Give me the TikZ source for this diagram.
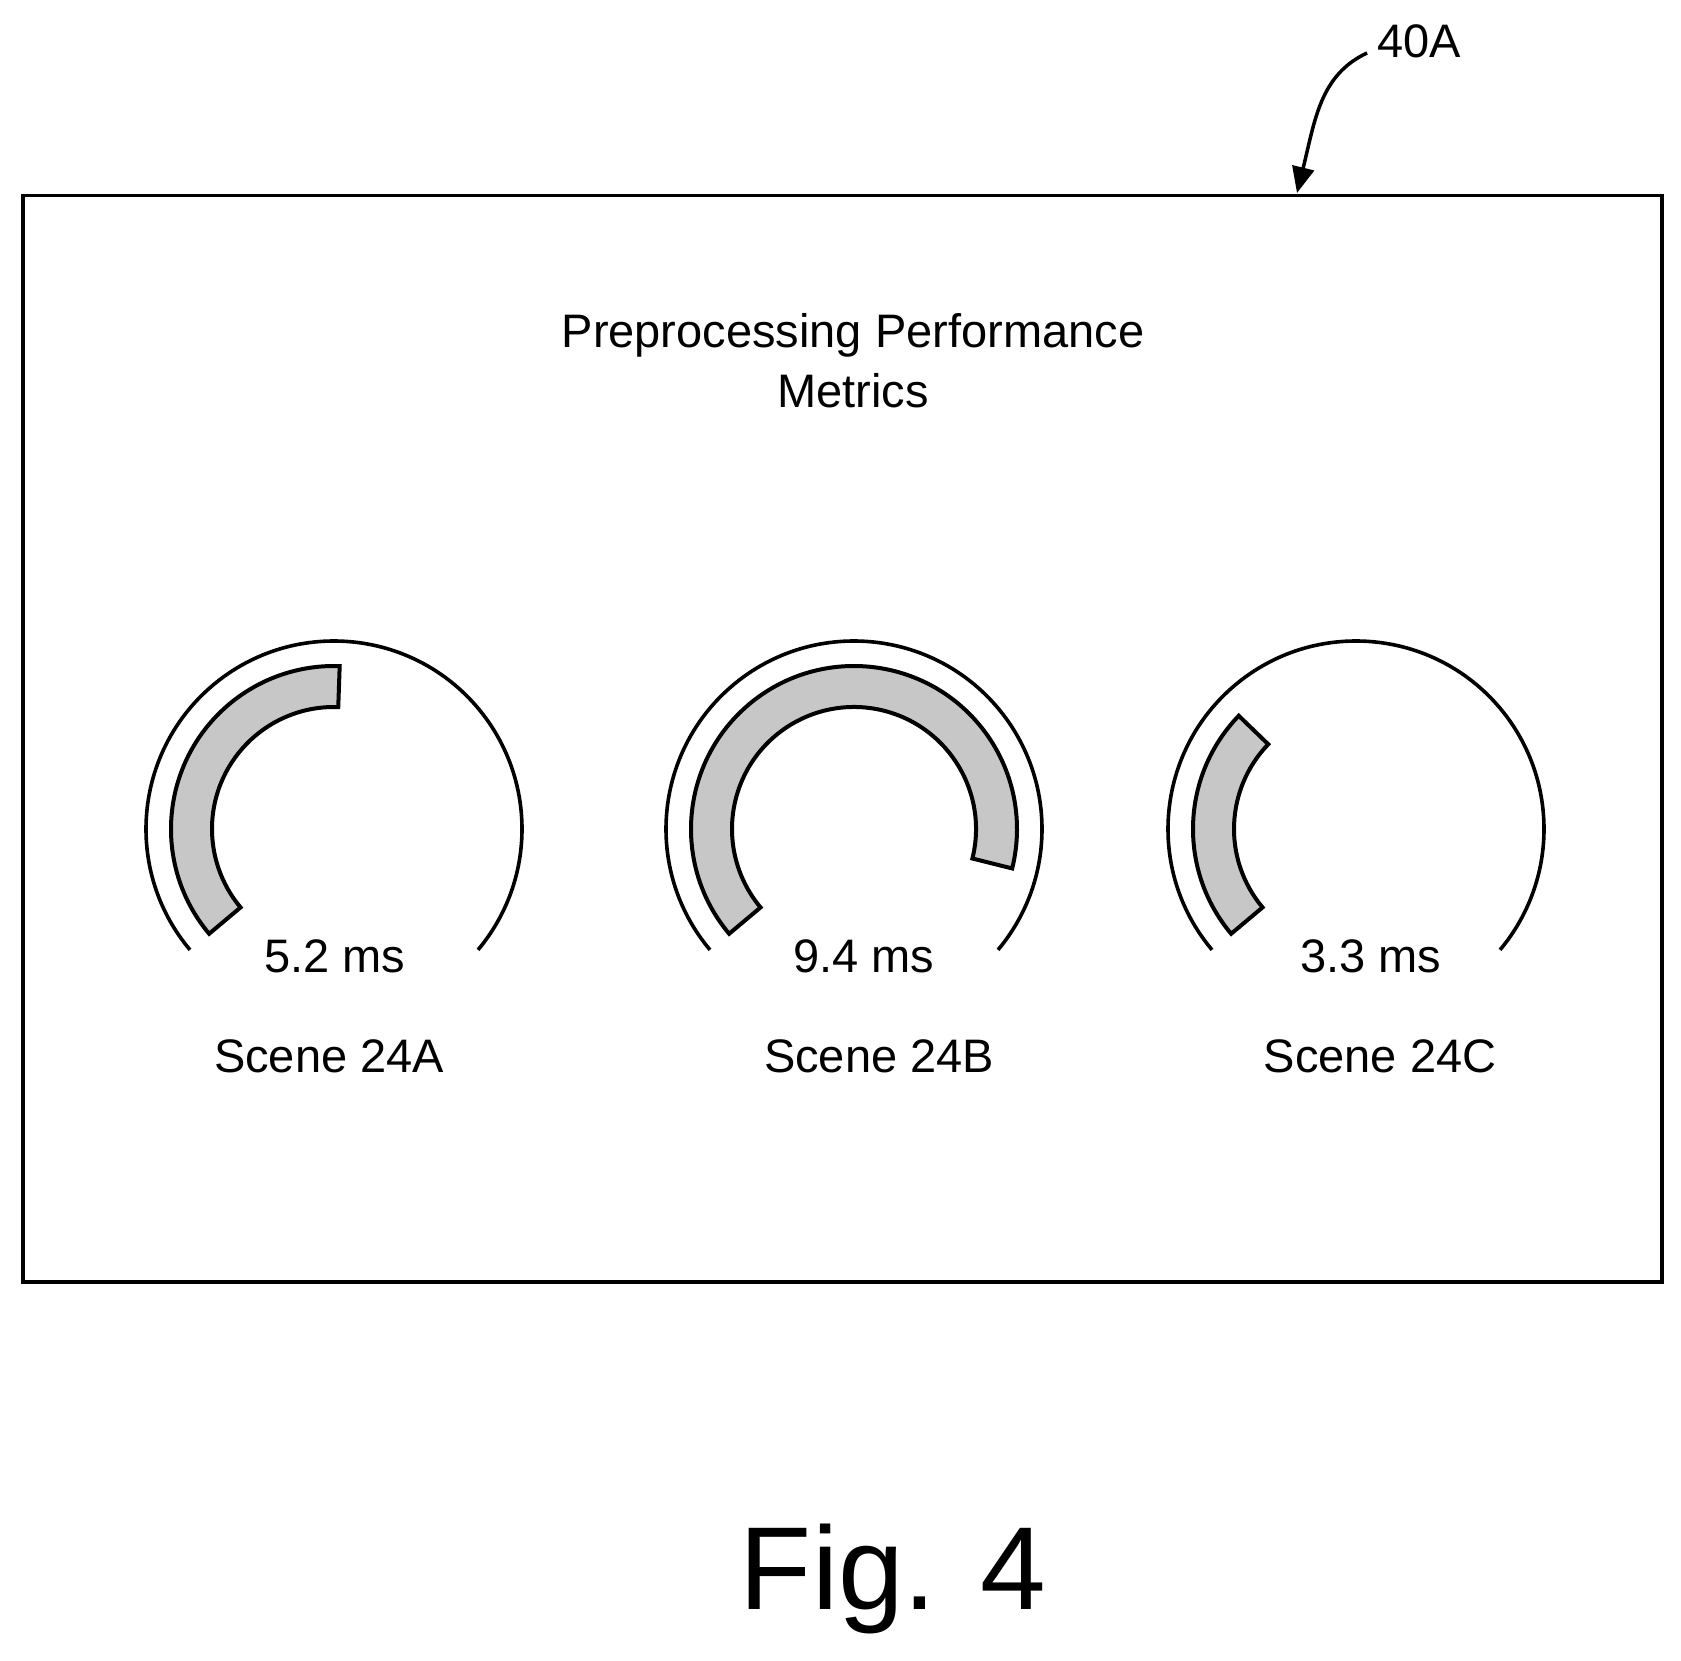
\documentclass[tikz,border=0pt]{standalone}
\usepackage{fontspec}
\setmainfont{Liberation Sans}
\usetikzlibrary{arrows.meta}
\begin{document}
\begin{tikzpicture}[x=1pt,y=-1pt,
  lbl/.style={font=\fontsize{47}{54}\selectfont, inner sep=0pt},
  ring/.style={line width=3.6pt},
  band/.style={line width=4pt, fill=black!22, line join=miter}]
\useasboundingbox (0,0) rectangle (1681,1661);
\node[draw, line width=3.5pt, minimum width=1639pt, minimum height=1086pt, anchor=north west, inner sep=0pt] (box) at (21,194) {};
\node[lbl, align=center] (title) at (853,361) {Preprocessing Performance\\[6pt]Metrics};
\node[lbl] (ref) at (1419,41) {40A};
\coordinate (tip) at (1297,193);
\draw[line width=3.5pt, -{Triangle[length=26pt,width=22pt]}] (1367,53) .. controls (1320,75) and (1315,120) .. (tip);
% gauges
\foreach \cx/\e/\v/\s/\n/\vx/\sx in {334/88/5.2 ms/Scene 24A/a/335/329, 854/-14/9.4 ms/Scene 24B/b/864/879, 1356/136/3.3 ms/Scene 24C/c/1371/1380}{
  \coordinate (g\n) at (\cx,829);
  \draw[ring] (g\n) ++(-220:188) arc[start angle=-220, end angle=40, radius=188];
  \draw[band] (g\n) ++(-220:163) arc[start angle=-220, end angle=-\e, radius=163]
     -- ++(-\e+180:41) arc[start angle=-\e, end angle=-220, radius=122] -- cycle;
  \node[lbl] (v\n) at (\vx,956) {\v};
  \node[lbl] (s\n) at (\sx,1056) {\s};
}
\node[font=\fontsize{118}{130}\selectfont, inner sep=0pt] (fig) at (893,1579) {Fig. 4};
\end{tikzpicture}
\end{document}
